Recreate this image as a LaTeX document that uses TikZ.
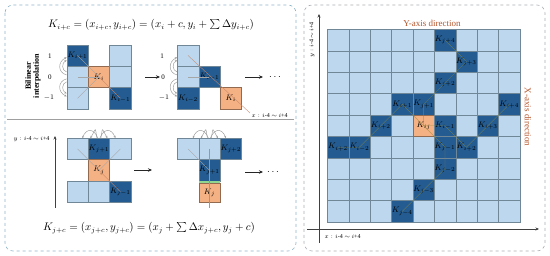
\documentclass[tikz,border=0pt]{standalone}
\usepackage{fontspec}
\setmainfont{Liberation Serif}
\usetikzlibrary{arrows.meta}
\definecolor{lb}{HTML}{BDD7EE}
\definecolor{db}{HTML}{245C92}
\definecolor{oc}{HTML}{F4B183}
\definecolor{gl}{HTML}{6F8797}
\definecolor{panA}{HTML}{8DB3C7}
\definecolor{panB}{HTML}{A9AEB3}
\definecolor{brn}{HTML}{B5552B}
\newcommand{\rng}[1]{$#1: i$\mbox{-}4 $\sim$ $i$+4}
\tikzset{
  cellbase/.style={minimum size=21.4pt, inner sep=0pt, draw=gl, line width=0.4pt, font=\fontsize{8.5}{9}\selectfont},
  lc/.style={cellbase, fill=lb},
  dc/.style={cellbase, fill=db},
  ocell/.style={cellbase, fill=oc, draw=oc!60!black},
  panel/.style={dashed, rounded corners=8pt, line width=0.6pt},
  arcst/.style={draw=gray!80, line width=0.45pt, -{Stealth[length=2.2pt,width=2pt]}},
  thin line/.style={draw=gray!70, line width=0.35pt},
  bigarrow/.style={draw=black!85, line width=0.7pt, -{Stealth[length=4pt,width=3.5pt]}},
  axis/.style={draw=black!75, line width=0.6pt, -{Stealth[length=3.5pt,width=3pt]}},
  tiny/.style={font=\fontsize{6}{7}\selectfont},
  numlab/.style={font=\fontsize{7}{8}\selectfont},
  chain/.style={draw=olive!60!gray, line width=0.35pt, opacity=0.7},
  formula/.style={font=\fontsize{10.5}{12}\selectfont},
}
\begin{document}
\begin{tikzpicture}[x=1pt,y=-1pt]
\useasboundingbox (0,0) rectangle (550,256);
% panels
\draw[panel, draw=panA] (5,5) rectangle (296,251);
\draw[panel, draw=panB] (304,5) rectangle (545,251);

% ---------- left panel ----------
\node[formula] (f1) at (151,25) {$K_{i+c}=\left(x_{i+c},y_{i+c}\right)=\left(x_i+c,y_i+\sum\Delta y_{i+c}\right)$};

\node[font=\fontsize{8}{9}\selectfont\bfseries, rotate=90, align=center] (bil) at (33,76) {Bilinear\\[-1pt]interpolation};

% diagram 1
\node[dc] (a1t) at (77.5,55.5) {$K_{i+1}$};
\node[lc] (a1m) at (77.5,76.9) {};
\node[lc] (a1b) at (77.5,98.3) {};
\node[ocell] (a1k) at (98.9,76.9) {$K_i$};
\node[lc] (a3t) at (120.3,55.5) {};
\node[lc] (a3m) at (120.3,76.9) {};
\node[dc] (a3b) at (120.3,98.3) {$K_{i-1}$};
\node[numlab] (l1a) at (50,56) {1};
\node[numlab] (l0a) at (50,77) {0};
\node[numlab] (lma) at (49,98) {$-1$};
\draw[thin line] (a1m.center) -- (a1k.center);
\draw[thin line] (a1b.center) -- (a1k.center);
\draw[thin line] (a1t.center) -- (a1k.center);
\draw[draw=brn!70, line width=0.35pt] (a1k.center) -- (a3b.center);
\draw[arcst] ([yshift=2pt]a1m.west) .. controls +(-9,-2) and +(-9,4) .. ([yshift=-2pt]a1t.west);
\draw[arcst] ([yshift=-2pt]a1m.west) .. controls +(-9,2) and +(-9,-4) .. ([yshift=2pt]a1b.west);
\draw[arcst] ([yshift=5pt]a1m.west) .. controls +(-5,-1) and +(-5,2) .. ([yshift=-5pt]a1t.west);
\draw[arcst] ([yshift=-5pt]a1m.west) .. controls +(-5,1) and +(-5,-2) .. ([yshift=5pt]a1b.west);

\coordinate (r1s) at (145,77);
\coordinate (r1e) at (160,77);
\draw[bigarrow] (r1s) -- (r1e);

% diagram 2
\node[lc] (b1t) at (188,55.5) {};
\node[lc] (b1m) at (188,76.9) {};
\node[dc] (b1b) at (188,98.3) {$K_{i-2}$};
\node[dc] (b2m) at (209.4,76.9) {$K_{i-1}$};
\node[ocell] (b3b) at (230.8,98.3) {$K_i$};
\node[numlab] (l1b) at (162,56) {1};
\node[numlab] (l0b) at (163,77) {0};
\node[numlab] (lmb) at (164,98) {$-1$};
\coordinate (xlab) at (250,113);
\draw[thin line] (b1m.center) -- (b2m.center);
\draw[draw=brn!70, line width=0.35pt] (b1t.center) -- (xlab);
\draw[arcst] ([yshift=2pt]b1m.west) .. controls +(-9,-2) and +(-9,4) .. ([yshift=-2pt]b1t.west);
\draw[arcst] ([yshift=-2pt]b1m.west) .. controls +(-9,2) and +(-9,-4) .. ([yshift=2pt]b1b.west);
\draw[arcst] ([yshift=5pt]b1m.west) .. controls +(-5,-1) and +(-5,2) .. ([yshift=-5pt]b1t.west);
\draw[arcst] ([yshift=-5pt]b1m.west) .. controls +(-5,1) and +(-5,-2) .. ([yshift=5pt]b1b.west);
\node[tiny, anchor=west] (xl1) at (248,116) {\rng{x}};

\coordinate (r2s) at (245,77);
\coordinate (r2e) at (263,77);
\draw[bigarrow] (r2s) -- (r2e);
\node (dots1) at (275,77) {$\cdots$};

% separator
\coordinate (sepL) at (7,119.5);
\coordinate (sepR) at (294,119.5);
\draw[draw=gray!75, line width=1.6pt] (sepL) -- (sepR);

% left y axis
\coordinate (yaB) at (55,208);
\coordinate (yaT) at (55,136);
\draw[axis] (yaB) -- (yaT);
\node[tiny, anchor=east] (yl1) at (53,139) {\rng{y}};

% diagram 3
\node[lc] (c1) at (77.5,149) {};
\node[dc] (c2) at (98.9,149) {$K_{j+1}$};
\node[lc] (c3) at (120.3,149) {};
\node[ocell] (ck) at (98.9,170.4) {$K_j$};
\node[lc] (c4) at (77.5,191.8) {};
\node[lc] (c5) at (98.9,191.8) {};
\node[dc] (c6) at (120.3,191.8) {$K_{j-1}$};
\draw[thin line] (c1.center) -- (ck.center);
\draw[thin line] (c3.center) -- (ck.center);
\draw[draw=brn!70, line width=0.35pt] (ck.center) -- (c6.center);
\draw[arcst] ([xshift=-2pt]c2.north) .. controls +(-2,-12) and +(6,-10) .. ([xshift=2pt]c1.north east) ;
\draw[arcst] ([xshift=2pt]c2.north) .. controls +(2,-12) and +(-6,-10) .. ([xshift=-2pt]c3.north west);
\draw[arcst] ([xshift=-1pt]c2.north) .. controls +(-4,-10) and +(4,-10) .. ([xshift=-6pt]c1.north east) ;
\draw[arcst] ([xshift=1pt]c2.north) .. controls +(4,-10) and +(-4,-10) .. ([xshift=6pt]c3.north west);

\coordinate (r3s) at (134,170);
\coordinate (r3e) at (152,170);
\draw[bigarrow] (r3s) -- (r3e);

% diagram 4
\node[lc] (d1) at (188,149) {};
\node[lc] (d2) at (209.4,149) {};
\node[dc] (d3) at (230.8,149) {$K_{j+2}$};
\node[dc] (d4) at (209.4,170.4) {$K_{j+1}$};
\node[ocell, minimum height=19.5pt] (dk) at (209.4,192.5) {$K_j$};
\coordinate (dstrip1) at (199,182);
\coordinate (dstrip2) at (220,182);
\draw[draw=green!45!gray!60, line width=1.6pt] (dstrip1) -- (dstrip2);
\coordinate (dbot) at (209.4,208);
\draw[draw=brn!70, line width=0.35pt] (d2.center) -- (dbot);
\draw[thin line] (d1.center) -- (d4.center);
\draw[arcst] ([xshift=-2pt]d2.north) .. controls +(-2,-12) and +(6,-10) .. ([xshift=2pt]d1.north east) ;
\draw[arcst] ([xshift=2pt]d2.north) .. controls +(2,-12) and +(-6,-10) .. ([xshift=-2pt]d3.north west);
\draw[arcst] ([xshift=-1pt]d2.north) .. controls +(-4,-10) and +(4,-10) .. ([xshift=-6pt]d1.north east) ;
\draw[arcst] ([xshift=1pt]d2.north) .. controls +(4,-10) and +(-4,-10) .. ([xshift=6pt]d3.north west);

\coordinate (r4s) at (245,172);
\coordinate (r4e) at (263,172);
\draw[bigarrow] (r4s) -- (r4e);
\node (dots2) at (273,172) {$\cdots$};

\node[formula] (f2) at (149,228) {$K_{j+c}=\left(x_{j+c},y_{j+c}\right)=\left(x_j+\sum\Delta x_{j+c},y_j+c\right)$};

% ---------- right panel ----------
\coordinate (vaB) at (319,243);
\coordinate (vaT) at (319,14);
\coordinate (haL) at (307,229);
\coordinate (haR) at (539,229);
\draw[axis] (vaB) -- (vaT);
\draw[axis] (haL) -- (haR);
\node[tiny, rotate=90] (yl2) at (312,40) {\rng{y}};
\node[tiny, anchor=west] (xl2) at (321,236.5) {\rng{x}};

\foreach \c in {0,...,8}{
  \foreach \r in {0,...,8}{
    \node[lc] (g\c\r) at ({327.3+21.4*(\c+0.5)},{29.5+21.4*(\r+0.5)}) {};
  }
}
\node[dc] (jp4) at (g50) {$K_{j+4}$};
\node[dc] (jp3) at (g61) {$K_{j+3}$};
\node[dc] (jp2) at (g52) {$K_{j+2}$};
\node[dc] (ip1) at (g33) {$K_{i+1}$};
\node[dc] (jp1) at (g43) {$K_{j+1}$};
\node[dc] (im4) at (g83) {$K_{i+4}$};
\node[dc] (ip2) at (g24) {$K_{i+2}$};
\node[ocell] (kij) at (g44) {$K_{ij}$};
\node[dc] (im1) at (g54) {$K_{i-1}$};
\node[dc] (im3) at (g74) {$K_{i+3}$};
\node[dc] (ip4) at (g05) {$K_{i+2}$};
\node[dc] (ip3) at (g15) {$K_{i-2}$};
\node[dc] (jm1) at (g55) {$K_{j-1}$};
\node[dc] (im2) at (g65) {$K_{i+2}$};
\node[dc] (jm2) at (g56) {$K_{j-2}$};
\node[dc] (jm3) at (g47) {$K_{j-3}$};
\node[dc] (jm4) at (g38) {$K_{j-4}$};
\draw[chain] (kij.center) -- (jp1.center) -- (jp2.center) -- (jp3.center) -- (jp4.center);
\draw[chain] (kij.center) -- (jm1.center) -- (jm2.center) -- (jm3.center) -- (jm4.center);
\draw[chain] (kij.center) -- (ip1.center) -- (ip2.center) -- (ip3.center) -- (ip4.center);
\draw[chain] (kij.center) -- (im1.center) -- (im2.center) -- (im3.center) -- (im4.center);

\node[text=brn, font=\fontsize{9}{10}\selectfont] (yad) at (432,23) {Y-axis direction};
\node[text=brn, font=\fontsize{9}{10}\selectfont, rotate=-90] (xad) at (528,117) {X-axis direction};
\end{tikzpicture}
\end{document}
